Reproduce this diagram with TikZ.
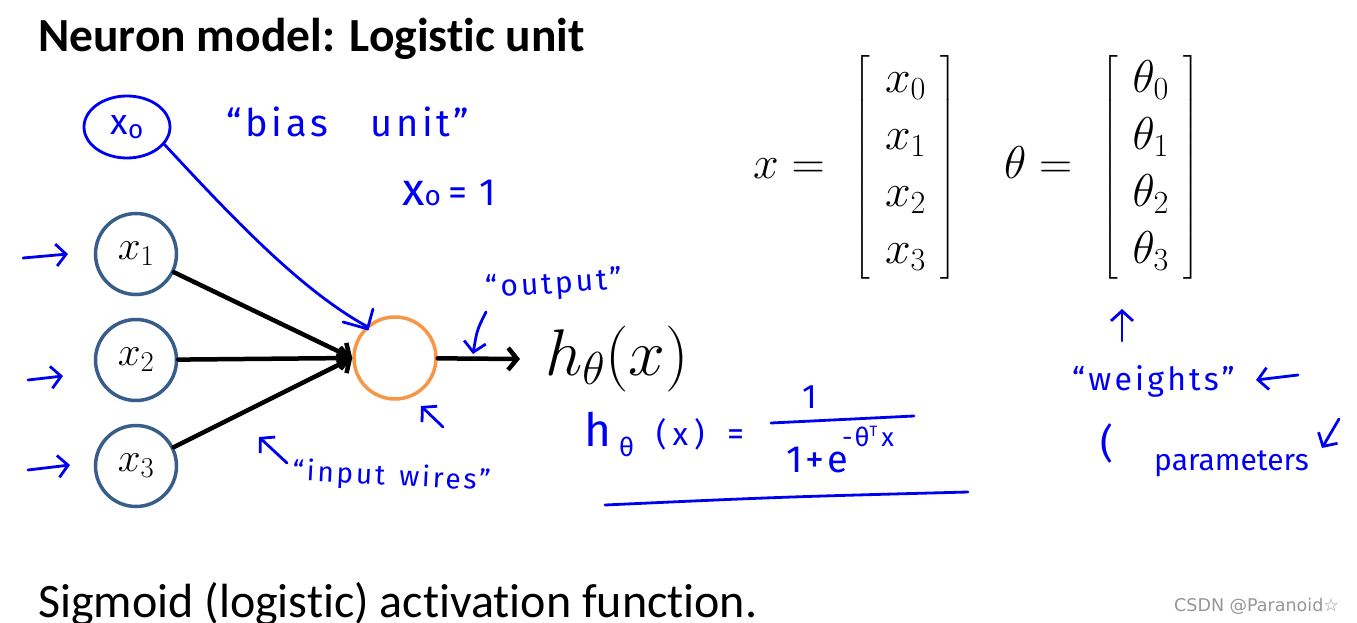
\RequirePackage{fix-cm}
\documentclass[tikz,border=0pt]{standalone}
\usepackage{fontspec}
\usepackage{amsmath}
\usepackage{graphicx}
\usetikzlibrary{arrows.meta,shapes.geometric}
\newfontfamily\slidefont{Carlito}[Ligatures={NoCommon}]
\newfontfamily\handfont{Fira Sans}[LetterSpace=10]
\newfontfamily\handfontn{Fira Sans}
\newfontfamily\wmfont{DejaVu Sans}
\definecolor{inpc}{RGB}{56,93,138}
\definecolor{outc}{RGB}{247,150,70}
\definecolor{handblue}{RGB}{0,0,240}
\definecolor{wmgray}{RGB}{150,150,150}
\begin{document}
\begin{tikzpicture}[x=1pt,y=-1pt,
  inp/.style={circle,draw=inpc,line width=3.5pt,minimum size=81pt,inner sep=0pt,font=\fontsize{41}{48}\selectfont},
  outn/.style={circle,draw=outc,line width=3.5pt,minimum size=82pt,inner sep=0pt},
  wire/.style={line width=4.5pt,line cap=round,line join=round,-{Straight Barb[length=9pt,width=22pt]}},
  hand/.style={draw=handblue,line width=2.8pt,line cap=round,line join=round},
  harrow/.style={hand,-{Straight Barb[length=10pt,width=22pt]}},
  htext/.style={text=handblue,inner sep=0pt,anchor=base west},
  mathbig/.style={inner sep=0pt,font=\fontsize{46}{57}\selectfont\setlength{\arraycolsep}{15pt}},
]
\useasboundingbox (0,0) rectangle (1357,623);

% titles
\node[anchor=base west,inner sep=0pt,font=\slidefont\bfseries\fontsize{47.5}{56}\selectfont] (title) at (38,52) {Neuron model: Logistic unit};
\node[anchor=base west,inner sep=0pt,font=\slidefont\fontsize{48}{56}\selectfont] (foot) at (38,617) {Sigmoid (logistic) activation function.};
\node[anchor=base west,inner sep=0pt,text=wmgray,font=\wmfont\fontsize{17.5}{20}\selectfont] (wm) at (1174,611) {CSDN @Paranoid☆};

% network
\node[inp] (x1) at (136,254) {$x_1$};
\node[inp] (x2) at (136,360) {$x_2$};
\node[inp] (x3) at (136,466) {$x_3$};
\node[outn] (o) at (395,358) {};
\node[anchor=base west,inner sep=0pt,font=\fontsize{66}{78}\selectfont] (h) at (545,375) {$h_\theta(x)$};
\coordinate (hend) at (520,359);
\draw[wire] (x1) -- (o.west);
\draw[wire] (x2) -- (o.west);
\draw[wire] (x3) -- (o.west);
\draw[wire] (o) -- (hend);

% vectors
\node[mathbig,anchor=west] (xv) at (753,167) {$x =\hspace{16pt} \left[\begin{array}{c} x_0\\ x_1\\ x_2\\ x_3\end{array}\right]$};
\node[mathbig,anchor=west] (tv) at (1004,167) {$\theta =\hspace{16pt} \left[\begin{array}{c} \theta_0\\ \theta_1\\ \theta_2\\ \theta_3\end{array}\right]$};

% handwritten annotations
\node[hand,ellipse,minimum width=86pt,minimum height=62pt,inner sep=0pt,text=handblue,font=\handfontn\fontsize{36}{40}\selectfont] (x0) at (127,127) {x\raisebox{-0.12em}{\fontsize{26}{30}\selectfont o}};
\node[htext,font=\handfont\fontsize{38}{44}\selectfont] (bias) at (226,137) {“bias\hspace{42pt}unit”};
\node[htext,font=\handfontn\fontsize{46}{50}\selectfont] (x0eq) at (402,205) {x\raisebox{-0.02em}{\fontsize{28}{30}\selectfont o}\hspace{8pt}{\fontsize{38}{40}\selectfont =\hspace{12pt}1}};
\node[htext,font=\handfont\fontsize{30}{36}\selectfont,rotate=4] (outl) at (486,298) {“output”};
\node[htext,font=\handfont\fontsize{28}{32}\selectfont,rotate=-3] (wires) at (292,480) {“input\hspace{14pt}wires”};
\node[htext,font=\handfont\fontsize{32}{38}\selectfont] (wts) at (1072,390) {“weights”};
\node[htext,font=\handfontn\fontsize{40}{44}\selectfont] (paren) at (1100,457) {(};
\node[htext,font=\handfontn\fontsize{30}{36}\selectfont] (params) at (1154,470) {parameters};

% bias wire
\coordinate (bhook) at (373,309);
\draw[hand] (x0.-25) .. controls (230,215) and (300,290) .. (368,327) -- (bhook);
\coordinate (bh1) at (343,322);
\coordinate (bh2) at (368,329);
\draw[hand] (bh1) -- (bh2);

% small arrows
\coordinate (a1s) at (23,258); \coordinate (a1e) at (68,254);
\coordinate (a2s) at (28,380); \coordinate (a2e) at (63,376);
\coordinate (a3s) at (28,470); \coordinate (a3e) at (70,465);
\draw[harrow] (a1s) -- (a1e);
\draw[harrow] (a2s) -- (a2e);
\draw[harrow] (a3s) -- (a3e);
\coordinate (oas) at (486,312); \coordinate (oae) at (473,354);
\draw[harrow] (oas) .. controls (477,330) .. (oae);
\coordinate (cas) at (443,427); \coordinate (cae) at (421,406);
\draw[harrow] (cas) -- (cae);
\coordinate (was) at (287,463); \coordinate (wae) at (259,437);
\draw[harrow] (was) -- (wae);
\coordinate (tas) at (1122,341); \coordinate (tae) at (1122,309);
\draw[harrow] (tas) -- (tae);
\coordinate (las) at (1298,375); \coordinate (lae) at (1256,380);
\draw[harrow] (las) -- (lae);
\coordinate (pas) at (1339,419); \coordinate (pae) at (1322,448);
\draw[harrow] (pas) -- (pae);

% handwritten formula
\node[htext,font=\handfontn\fontsize{46}{50}\selectfont] (fh) at (584,446) {h};
\node[htext,font=\handfontn\fontsize{26}{28}\selectfont] (fth) at (619,456) {θ};
\node[htext,font=\handfontn\fontsize{32}{40}\selectfont] (fx) at (656,445) {(\hspace{6pt}x\hspace{6pt})};
\node[htext,font=\handfontn\fontsize{34}{40}\selectfont] (feq) at (727,445) {=};
\node[htext,font=\handfontn\fontsize{34}{38}\selectfont] (fnum) at (802,408) {1};
\draw[hand] (771,423) -- (914,416);
\node[htext,font=\handfontn\fontsize{38}{40}\selectfont] (fden) at (786,472) {1\hspace{3pt}+\hspace{3pt}e};
\node[htext,font=\handfontn\fontsize{26}{28}\selectfont] (fexp) at (842,446) {-\hspace{2pt}θ\raisebox{0.35em}{\fontsize{15}{16}\selectfont T}\hspace{4pt}x};
\draw[hand] (605,505) .. controls (780,497) .. (968,492);
\end{tikzpicture}
\end{document}
